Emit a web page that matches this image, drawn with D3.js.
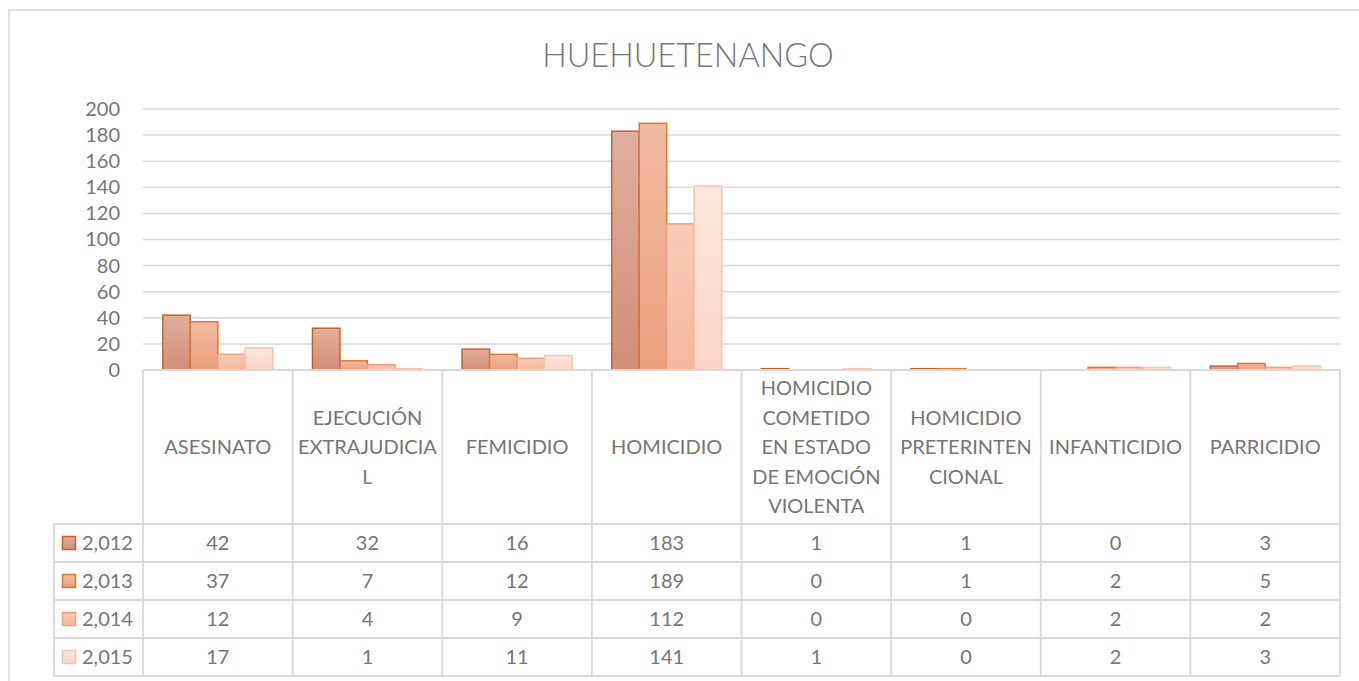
<!DOCTYPE html>
<html><head><meta charset="utf-8">
<script src="https://cdn.jsdelivr.net/npm/d3@7"></script>
<style>body{margin:0;background:#fff}svg{display:block}text{font-family:Lato,"Open Sans",sans-serif;fill:#767676}</style>
</head><body><svg id="c" width="1359" height="681"></svg>
<script>
const title = "HUEHUETENANGO";
const categories = ["ASESINATO","EJECUCIÓN EXTRAJUDICIAL","FEMICIDIO","HOMICIDIO","HOMICIDIO COMETIDO EN ESTADO DE EMOCIÓN VIOLENTA","HOMICIDIO PRETERINTENCIONAL","INFANTICIDIO","PARRICIDIO"];
const categoryLines = [["ASESINATO"],["EJECUCIÓN","EXTRAJUDICIA","L"],["FEMICIDIO"],["HOMICIDIO"],["HOMICIDIO","COMETIDO","EN ESTADO","DE EMOCIÓN","VIOLENTA"],["HOMICIDIO","PRETERINTEN","CIONAL"],["INFANTICIDIO"],["PARRICIDIO"]];
const seriesNames = ["2,012","2,013","2,014","2,015"];
const v2012 = [42,32,16,183,1,1,0,3];
const v2013 = [37,7,12,189,0,1,2,5];
const v2014 = [12,4,9,112,0,0,2,2];
const v2015 = [17,1,11,141,1,0,2,3];
const series = [v2012,v2013,v2014,v2015];
const yTicks = [0,20,40,60,80,100,120,140,160,180,200];

const fillTop = ["#e0af9d","#f0bba2","#f8ccb9","#fce7de"];
const fillBot = ["#d38e77","#eaa07e","#f5b89e","#f9d5c7"];
const strokes = ["#c4622c","#e27634","#f0a07e","#f5c4ae"];

const svg = d3.select("#c");
const grid = "#d9d9d9";
svg.append("rect").attr("x",9).attr("y",10).attr("width",1380).attr("height",700)
  .attr("fill","none").attr("stroke",grid).attr("stroke-width",1.5);

const defs = svg.append("defs");
series.forEach((s,i)=>{
  const g = defs.append("linearGradient").attr("id","g"+i).attr("x1",0).attr("y1",0).attr("x2",0).attr("y2",1);
  g.append("stop").attr("offset","0%").attr("stop-color",fillTop[i]);
  g.append("stop").attr("offset","100%").attr("stop-color",fillBot[i]);
});

const pLeft=143, pRight=1340, pTop=109, pBase=370;
const x0 = d3.scaleBand().domain(categories).range([pLeft,pRight]).paddingInner(0.265).paddingOuter(0.1325);
const xCell = d3.scaleBand().domain(categories).range([pLeft,pRight]).padding(0);
const x1 = d3.scaleBand().domain(seriesNames).range([0,x0.bandwidth()]);
const y = d3.scaleLinear().domain([0,200]).range([pBase,pTop]);

svg.append("text").attr("x",688).attr("y",67).attr("text-anchor","middle")
  .style("font-size","32.5px").style("font-weight",300).text(title);

svg.append("g").selectAll("line").data(yTicks.filter(d=>d>0)).join("line")
  .attr("x1",pLeft).attr("x2",pRight).attr("y1",d=>y(d)).attr("y2",d=>y(d))
  .attr("stroke",grid).attr("stroke-width",1.5);

const ya = svg.append("g").attr("transform",`translate(${pLeft},0)`)
  .call(d3.axisLeft(y).tickValues(yTicks).tickSize(0).tickPadding(23));
ya.select(".domain").remove();
ya.selectAll("text").style("font-size","20px").style("font-family","Lato").attr("fill","#767676");

const gb = svg.append("g");
series.forEach((s,i)=>{
  gb.append("g").selectAll("rect").data(s).join("rect")
    .attr("x",(d,j)=>x0(categories[j])+x1(seriesNames[i]))
    .attr("y",d=>y(d)).attr("width",x1.bandwidth()).attr("height",d=>pBase-y(d))
    .attr("fill",`url(#g${i})`).attr("stroke",strokes[i]).attr("stroke-width",1.5);
});

const rowTop = 524, rowH = 38, legLeft = 54;
const tb = svg.append("g").attr("stroke",grid).attr("stroke-width",1.8);
tb.append("line").attr("x1",pLeft).attr("x2",pRight).attr("y1",pBase).attr("y2",pBase);
for(let r=0;r<=series.length;r++){
  tb.append("line").attr("x1",legLeft).attr("x2",pRight).attr("y1",rowTop+r*rowH).attr("y2",rowTop+r*rowH);
}
const tBottom = rowTop+series.length*rowH;
categories.forEach(c=>{
  tb.append("line").attr("x1",xCell(c)).attr("x2",xCell(c)).attr("y1",pBase).attr("y2",tBottom);
});
tb.append("line").attr("x1",pRight).attr("x2",pRight).attr("y1",pBase).attr("y2",tBottom);
tb.append("line").attr("x1",legLeft).attr("x2",legLeft).attr("y1",rowTop).attr("y2",tBottom);

const lh = 29.5, hc = (pBase+rowTop)/2;
categories.forEach((c,j)=>{
  const lines = categoryLines[j];
  const t = svg.append("text").attr("text-anchor","middle").style("font-size","20px");
  lines.forEach((l,k)=>{
    t.append("tspan").attr("x",xCell(c)+xCell.bandwidth()/2)
     .attr("y",hc+(k-(lines.length-1)/2)*lh).attr("dy","0.35em").text(l);
  });
});

series.forEach((s,i)=>{
  const cy = rowTop+i*rowH+rowH/2;
  svg.append("rect").attr("x",62.5).attr("y",cy-6.5).attr("width",13).attr("height",13)
    .attr("fill",`url(#g${i})`).attr("stroke",strokes[i]).attr("stroke-width",1.5);
  svg.append("text").attr("x",82).attr("y",cy).attr("dy","0.35em").style("font-size","20px").text(seriesNames[i]);
  s.forEach((d,j)=>{
    svg.append("text").attr("x",xCell(categories[j])+xCell.bandwidth()/2).attr("y",cy).attr("dy","0.35em")
      .attr("text-anchor","middle").style("font-size","20px").text(d);
  });
});
</script></body></html>
